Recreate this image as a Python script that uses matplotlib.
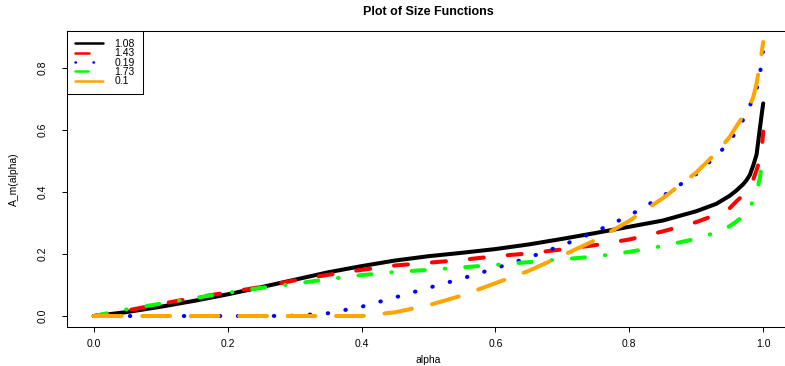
import matplotlib
matplotlib.use("Agg")
import matplotlib.pyplot as plt
from matplotlib.lines import Line2D

plt.rcParams["font.family"] = ["Liberation Sans", "DejaVu Sans"]
plt.rcParams["lines.scale_dashes"] = False

# alpha grid shared by all size functions (denser near 1 where curves rise)
alpha = [0.0, 0.05, 0.1, 0.15, 0.2, 0.25, 0.3, 0.35, 0.4, 0.45, 0.5, 0.55, 0.6,
         0.65, 0.7, 0.75, 0.8, 0.85, 0.9, 0.93, 0.95, 0.96, 0.97, 0.975, 0.98,
         0.985, 0.99, 0.995, 0.998, 1.0]

size_108 = [0.0, 0.013, 0.03, 0.049, 0.07, 0.093, 0.117, 0.141, 0.161, 0.179,
            0.193, 0.204, 0.216, 0.231, 0.249, 0.268, 0.288, 0.308, 0.338,
            0.362, 0.388, 0.405, 0.425, 0.438, 0.455, 0.485, 0.52, 0.605,
            0.655, 0.686]
size_143 = [0.0, 0.018, 0.039, 0.059, 0.076, 0.094, 0.115, 0.133, 0.149, 0.163,
            0.172, 0.181, 0.193, 0.202, 0.215, 0.229, 0.247, 0.273, 0.303,
            0.327, 0.348, 0.37, 0.39, 0.405, 0.42, 0.44, 0.47, 0.505, 0.545,
            0.595]
size_019 = [0.0, 0.0, 0.0, 0.0, 0.0, 0.0, 0.001, 0.009, 0.03, 0.06, 0.091,
            0.121, 0.154, 0.189, 0.228, 0.273, 0.324, 0.387, 0.458, 0.517,
            0.562, 0.598, 0.633, 0.65, 0.678, 0.703, 0.73, 0.78, 0.825, 0.86]
size_173 = [0.0, 0.022, 0.04, 0.058, 0.075, 0.091, 0.104, 0.119, 0.132, 0.142,
            0.149, 0.157, 0.165, 0.174, 0.183, 0.192, 0.207, 0.226, 0.249,
            0.27, 0.29, 0.305, 0.323, 0.335, 0.35, 0.372, 0.4, 0.445, 0.49,
            0.515]
size_010 = [0.0, 0.0, 0.0, 0.0, 0.0, 0.0, 0.0, 0.0, 0.0, 0.012, 0.035, 0.066,
            0.106, 0.146, 0.195, 0.246, 0.307, 0.38, 0.463, 0.527, 0.578,
            0.612, 0.645, 0.662, 0.68, 0.705, 0.75, 0.81, 0.855, 0.884]

labels = ["1.08", "1.43", "0.19", "1.73", "0.1"]
series = [size_108, size_143, size_019, size_173, size_010]
colors = ["black", "red", "blue", "#00FF00", "orange"]
# R-style line types: solid, dashed, dotted, dotdash, longdash (in points)
dashes = [None, (10.1, 17.3), (0.36, 12.6), (9.4, 14.4, 0.36, 14.4), (20.0, 14.9)]

W, H = 785, 366
fig = plt.figure(figsize=(W / 100, H / 100), dpi=100)
# plot region in pixels: left 67, right 790, top 31, bottom 327
ax = fig.add_axes([67 / W, (H - 327) / H, (790 - 67) / W, (327 - 31) / H])

handles = []
for y, lab, col, ds in zip(series, labels, colors, dashes):
    kw = dict(color=col, lw=2.9, solid_capstyle="round", dash_capstyle="round",
              solid_joinstyle="round", dash_joinstyle="round")
    if ds is not None:
        kw["dashes"] = ds
    ax.plot(alpha, y, **kw)
    hkw = dict(kw, lw=1.8)
    handles.append(Line2D([], [], **hkw))

ymax = max(max(s) for s in series)
ax.set_xlim(-0.04, 1.04)
ax.set_ylim(-0.04 * ymax, 1.04 * ymax)
ax.set_xticks([0.0, 0.2, 0.4, 0.6, 0.8, 1.0])
ax.set_yticks([0.0, 0.2, 0.4, 0.6, 0.8])
ax.tick_params(direction="out", length=3.6, width=0.7, labelsize=7.5)
ax.tick_params(axis="x", pad=5)
ax.tick_params(axis="y", pad=10, labelrotation=90)
for lbl in ax.get_yticklabels():
    lbl.set_va("center")
for sp in ax.spines.values():
    sp.set_linewidth(0.75)

ax.set_title("Plot of Size Functions", fontsize=9, fontweight="bold",
             y=1 + (31 - 12) / 296, va="center", pad=0)
ax.set_xlabel("alpha", fontsize=7.5)
ax.xaxis.set_label_coords(0.5, (327 - 360) / 296)
ax.xaxis.label.set_va("center")
ax.set_ylabel("A_m(alpha)", fontsize=7.5)
ax.yaxis.set_label_coords((14 - 67) / 723, 0.5)
ax.yaxis.label.set_va("center")

leg = ax.legend(handles, labels, loc="upper left", borderaxespad=0,
                fontsize=7.5, handlelength=2.7, handletextpad=1.1,
                labelspacing=-0.06, borderpad=0.75, fancybox=False,
                framealpha=1, edgecolor="black")
leg.get_frame().set_linewidth(0.75)

fig.savefig("out.png", dpi=100)
